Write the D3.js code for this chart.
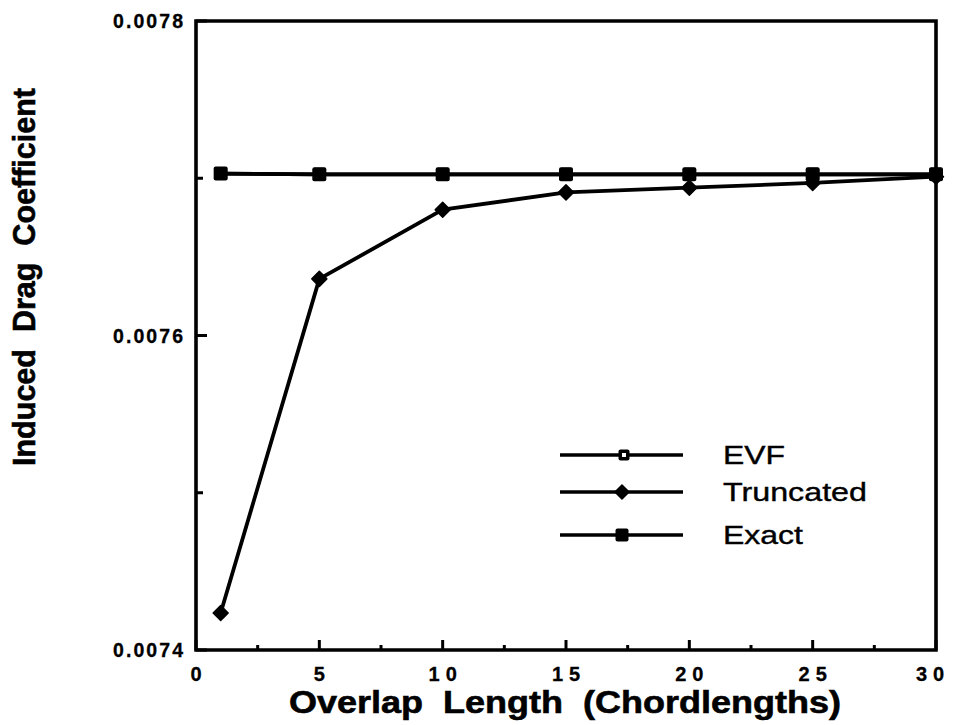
<!DOCTYPE html>
<html>
<head>
<meta charset="utf-8">
<script src="https://cdn.jsdelivr.net/npm/d3@7"></script>
<style>
  html, body { margin: 0; padding: 0; background: #fff; }
  svg { display: block; }
  text { white-space: pre; }
</style>
</head>
<body>
<svg id="chart" width="953" height="725"></svg>
<script>
// Overlap lengths (chordlengths) and induced drag coefficient for each method
const overlap = [1, 5, 10, 15, 20, 25, 30];
const evf = [0.0077030, 0.0077025, 0.0077025, 0.0077025, 0.0077025, 0.0077025, 0.0077025];
const truncated = [0.0074235, 0.0076360, 0.0076800, 0.0076910, 0.0076940, 0.0076970, 0.0077010];
const exact = [0.0077030, 0.0077025, 0.0077025, 0.0077025, 0.0077025, 0.0077025, 0.0077025];

const xMajorTicks = [0, 5, 10, 15, 20, 25, 30];
const xMinorTicks = [2.5, 7.5, 12.5, 17.5, 22.5, 27.5];
const yMajorTicks = [0.0074, 0.0076, 0.0078];
const yMinorTicks = [0.0075, 0.0077];
const seriesNames = ["EVF", "Truncated", "Exact"];

const svg = d3.select("#chart");
const plotLeft = 196, plotRight = 936, plotTop = 21, plotBottom = 650;

const x = d3.scaleLinear().domain([0, 30]).range([plotLeft, plotRight]);
const y = d3.scaleLinear().domain([0.0074, 0.0078]).range([plotBottom, plotTop]);

const ink = "#000";
const font = "'Liberation Sans', Arial, Helvetica, sans-serif";

// Frame: left, bottom and right axes plus top border
svg.append("path")
  .attr("d", `M${plotLeft},${plotTop} L${plotRight},${plotTop} L${plotRight},${plotBottom} L${plotLeft},${plotBottom} Z`)
  .attr("fill", "none").attr("stroke", ink).attr("stroke-width", 3.6);

// Inward ticks on the x axis
svg.append("g").selectAll("line").data(xMajorTicks).join("line")
  .attr("x1", d => x(d)).attr("x2", d => x(d))
  .attr("y1", plotBottom).attr("y2", plotBottom - 10)
  .attr("stroke", ink).attr("stroke-width", 3);
svg.append("g").selectAll("line").data(xMinorTicks).join("line")
  .attr("x1", d => x(d)).attr("x2", d => x(d))
  .attr("y1", plotBottom).attr("y2", plotBottom - 5)
  .attr("stroke", ink).attr("stroke-width", 3);

// Inward ticks on the y axis
svg.append("g").selectAll("line").data(yMajorTicks).join("line")
  .attr("x1", plotLeft).attr("x2", plotLeft + 11)
  .attr("y1", d => y(d)).attr("y2", d => y(d))
  .attr("stroke", ink).attr("stroke-width", 3);
svg.append("g").selectAll("line").data(yMinorTicks).join("line")
  .attr("x1", plotLeft).attr("x2", plotLeft + 7)
  .attr("y1", d => y(d)).attr("y2", d => y(d))
  .attr("stroke", ink).attr("stroke-width", 3);

// Tick labels (the last one sits a little inside the right edge)
svg.append("g").selectAll("text").data(xMajorTicks).join("text")
  .attr("x", (d, i) => x(d) + (i === xMajorTicks.length - 1 ? -6 : 0))
  .attr("y", plotBottom + 31)
  .attr("text-anchor", "middle")
  .attr("font-family", font).attr("font-weight", "bold")
  .attr("font-size", 20)
  .attr("fill", ink).attr("stroke", ink).attr("stroke-width", 0.3)
  .each(function (d) {
    const s = String(d);
    if (s.length > 1) d3.select(this).attr("textLength", s.length * 11.1 + 6).attr("lengthAdjust", "spacing");
  })
  .text(d => d);

svg.append("g").selectAll("text").data(yMajorTicks).join("text")
  .attr("x", plotLeft - 13).attr("y", d => y(d) + 7)
  .attr("text-anchor", "end")
  .attr("font-family", font).attr("font-weight", "bold")
  .attr("font-size", 19.5)
  .attr("textLength", 70).attr("lengthAdjust", "spacing")
  .attr("fill", ink).attr("stroke", ink).attr("stroke-width", 0.3)
  .text(d => d.toFixed(4));

// Axis titles
svg.append("text")
  .attr("x", 565).attr("y", 713)
  .attr("text-anchor", "middle")
  .attr("font-family", font).attr("font-weight", "bold")
  .attr("font-size", 31)
  .attr("textLength", 552).attr("lengthAdjust", "spacingAndGlyphs")
  .attr("fill", ink).attr("stroke", ink).attr("stroke-width", 0.6)
  .text("Overlap  Length  (Chordlengths)");

svg.append("text")
  .attr("transform", "translate(35,277) rotate(-90)")
  .attr("text-anchor", "middle")
  .attr("font-family", font).attr("font-weight", "bold")
  .attr("font-size", 31)
  .attr("textLength", 378).attr("lengthAdjust", "spacingAndGlyphs")
  .attr("fill", ink).attr("stroke", ink).attr("stroke-width", 0.6)
  .text("Induced  Drag  Coefficient");

// Series lines and markers
const line = d3.line().x(d => x(d[0])).y(d => y(d[1]));
const pairs = vals => overlap.map((o, i) => [o, vals[i]]);

function drawSquare(g, cx, cy, s, hollow) {
  g.append("rect")
    .attr("x", cx - s / 2).attr("y", cy - s / 2)
    .attr("width", s).attr("height", s).attr("rx", 2)
    .attr("fill", ink);
  if (hollow) {
    g.append("rect")
      .attr("x", cx - 2).attr("y", cy - 2)
      .attr("width", 4).attr("height", 4)
      .attr("fill", "#fff");
  }
}
function drawDiamond(g, cx, cy, r) {
  g.append("path")
    .attr("d", `M${cx},${cy - r} L${cx + r},${cy} L${cx},${cy + r} L${cx - r},${cy} Z`)
    .attr("fill", ink).attr("stroke", ink).attr("stroke-width", 1.5).attr("stroke-linejoin", "round");
}

const plot = svg.append("g");

[truncated, evf, exact].forEach(vals => {
  plot.append("path").datum(pairs(vals)).attr("d", line)
    .attr("fill", "none").attr("stroke", ink).attr("stroke-width", 3.8)
    .attr("stroke-linejoin", "round");
});

pairs(truncated).forEach(([a, b]) => drawDiamond(plot, x(a), y(b), 7.5));
pairs(evf).forEach(([a, b]) => drawSquare(plot, x(a), y(b), 13, true));
pairs(exact).forEach(([a, b]) => drawSquare(plot, x(a), y(b), 14, false));

// Legend
const legend = svg.append("g");
const legendRows = [455, 492, 535];
seriesNames.forEach((name, i) => {
  const ly = legendRows[i];
  legend.append("line")
    .attr("x1", 560).attr("x2", 683).attr("y1", ly).attr("y2", ly)
    .attr("stroke", ink).attr("stroke-width", 3.4);
  if (name === "EVF") drawSquare(legend, 624, ly, 11, true);
  else if (name === "Truncated") drawDiamond(legend, 622, ly, 7);
  else drawSquare(legend, 622, ly, 13, false);
  legend.append("text")
    .attr("x", 723).attr("y", ly + 9)
    .attr("font-family", font).attr("font-size", 26)
    .attr("fill", ink).attr("stroke", ink).attr("stroke-width", 0.4)
    .attr("textLength", [62, 144, 80][i]).attr("lengthAdjust", "spacingAndGlyphs")
    .text(name);
});
</script>
</body>
</html>
